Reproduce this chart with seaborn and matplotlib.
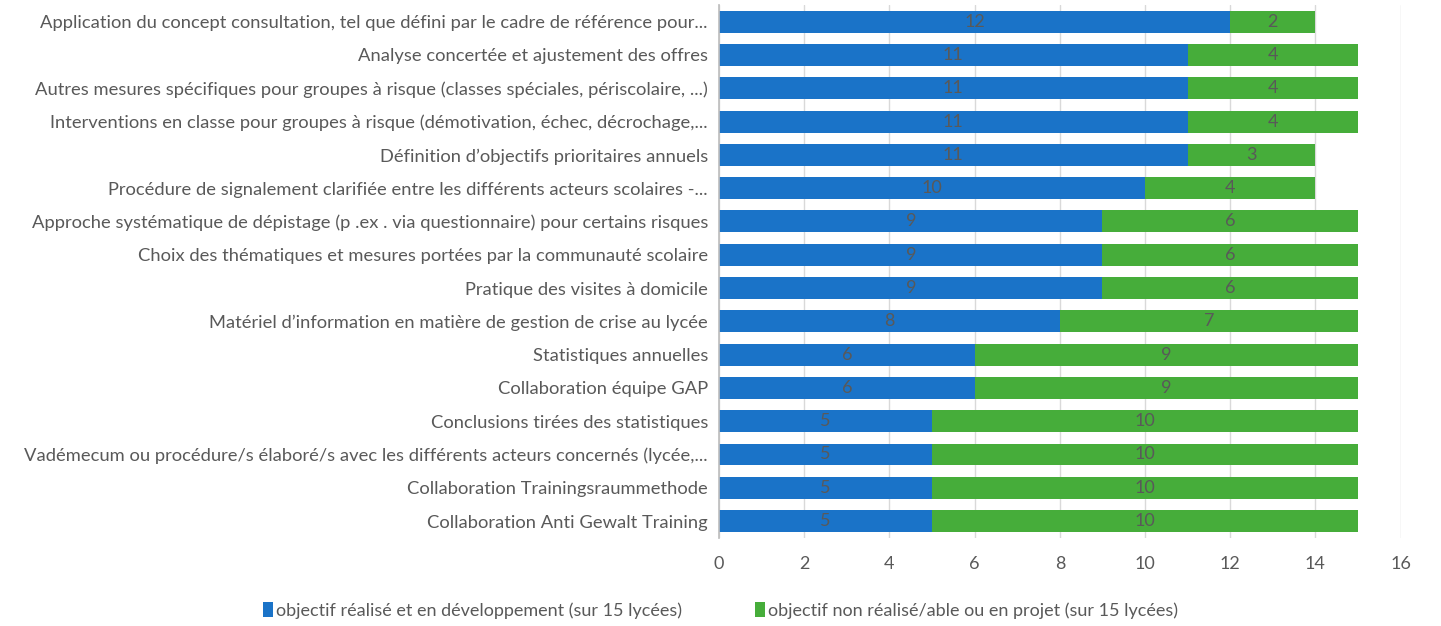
import matplotlib
matplotlib.use("Agg")
import matplotlib.pyplot as plt
import seaborn as sns
import pandas as pd
import numpy as np

categories = [
    "Application du concept consultation, tel que défini par le cadre de référence pour...",
    "Analyse concertée et ajustement des offres",
    "Autres mesures spécifiques pour groupes à risque (classes spéciales, périscolaire, ...)",
    "Interventions en classe pour groupes à risque (démotivation, échec, décrochage,...",
    "Définition d’objectifs prioritaires annuels",
    "Procédure de signalement clarifiée entre les différents acteurs scolaires -...",
    "Approche systématique de dépistage (p .ex . via questionnaire) pour certains risques",
    "Choix des thématiques et mesures portées par la communauté scolaire",
    "Pratique des visites à domicile",
    "Matériel d’information en matière de gestion de crise au lycée",
    "Statistiques annuelles",
    "Collaboration équipe GAP",
    "Conclusions tirées des statistiques",
    "Vadémecum ou procédure/s élaboré/s avec les différents acteurs concernés (lycée,...",
    "Collaboration Trainingsraummethode",
    "Collaboration Anti Gewalt Training",
]
realise = [12, 11, 11, 11, 11, 10, 9, 9, 9, 8, 6, 6, 5, 5, 5, 5]
non_realise = [2, 4, 4, 4, 3, 4, 6, 6, 6, 7, 9, 9, 10, 10, 10, 10]
series_names = ["objectif réalisé et en développement (sur 15 lycées)",
                "objectif non réalisé/able ou en projet (sur 15 lycées)"]
x_ticks = [0, 2, 4, 6, 8, 10, 12, 14, 16]

BLUE = "#1a73c8"
GREEN = "#46ad3a"
TXT = "#595959"

sns.set_theme(style="white")
plt.rcParams['font.family'] = ['Lato', 'DejaVu Sans']

df = pd.DataFrame({"cat": categories, "a": realise, "b": non_realise})
df["total"] = df["a"] + df["b"]

fig = plt.figure(figsize=(14.41, 6.26), dpi=100)
ax = fig.add_axes([0.499, 0.141, 0.473, 0.851])

sns.barplot(data=df, y="cat", x="total", orient="h", color=GREEN, saturation=1,
            width=0.66, ax=ax, label=series_names[1], linewidth=0)
sns.barplot(data=df, y="cat", x="a", orient="h", color=BLUE, saturation=1,
            width=0.66, ax=ax, label=series_names[0], linewidth=0)

handles, labels = ax.get_legend_handles_labels()
if ax.legend_ is not None:
    ax.legend_.remove()

for i, (a, b) in enumerate(zip(realise, non_realise)):
    ax.text(a / 2, i, str(a), ha="center", va="center", color=TXT, fontsize=13)
    ax.text(a + b / 2, i, str(b), ha="center", va="center", color=TXT, fontsize=13)

ax.set_xlim(0, 16)
ax.set_ylim(len(categories) - 0.5, -0.5)
ax.set_xticks(x_ticks)
ax.set_xticklabels([str(t) for t in x_ticks], color=TXT, fontsize=13)
ax.tick_params(axis="x", length=0, pad=13)
ax.tick_params(axis="y", length=0, pad=8, labelsize=13.2, labelcolor=TXT)
ax.set_xlabel("")
ax.set_ylabel("")
ax.xaxis.grid(True, color="#d9d9d9", linewidth=1)
ax.set_axisbelow(True)
for s in ["top", "right", "bottom"]:
    ax.spines[s].set_visible(False)
ax.spines["left"].set_color("#bfbfbf")
ax.set_yticks(np.arange(-0.5, len(categories), 1), minor=True)
ax.tick_params(axis="y", which="minor", length=4, color="#bfbfbf", direction="out")

order = [labels.index(series_names[0]), labels.index(series_names[1])]
fig.legend([handles[k] for k in order], [labels[k] for k in order],
           loc="center", bbox_to_anchor=(0.5, 0.025), ncol=2, frameon=False,
           fontsize=13, labelcolor=TXT, handlelength=0.55, handleheight=0.9,
           handletextpad=0.2, columnspacing=4)

fig.savefig("out.png", dpi=100)
